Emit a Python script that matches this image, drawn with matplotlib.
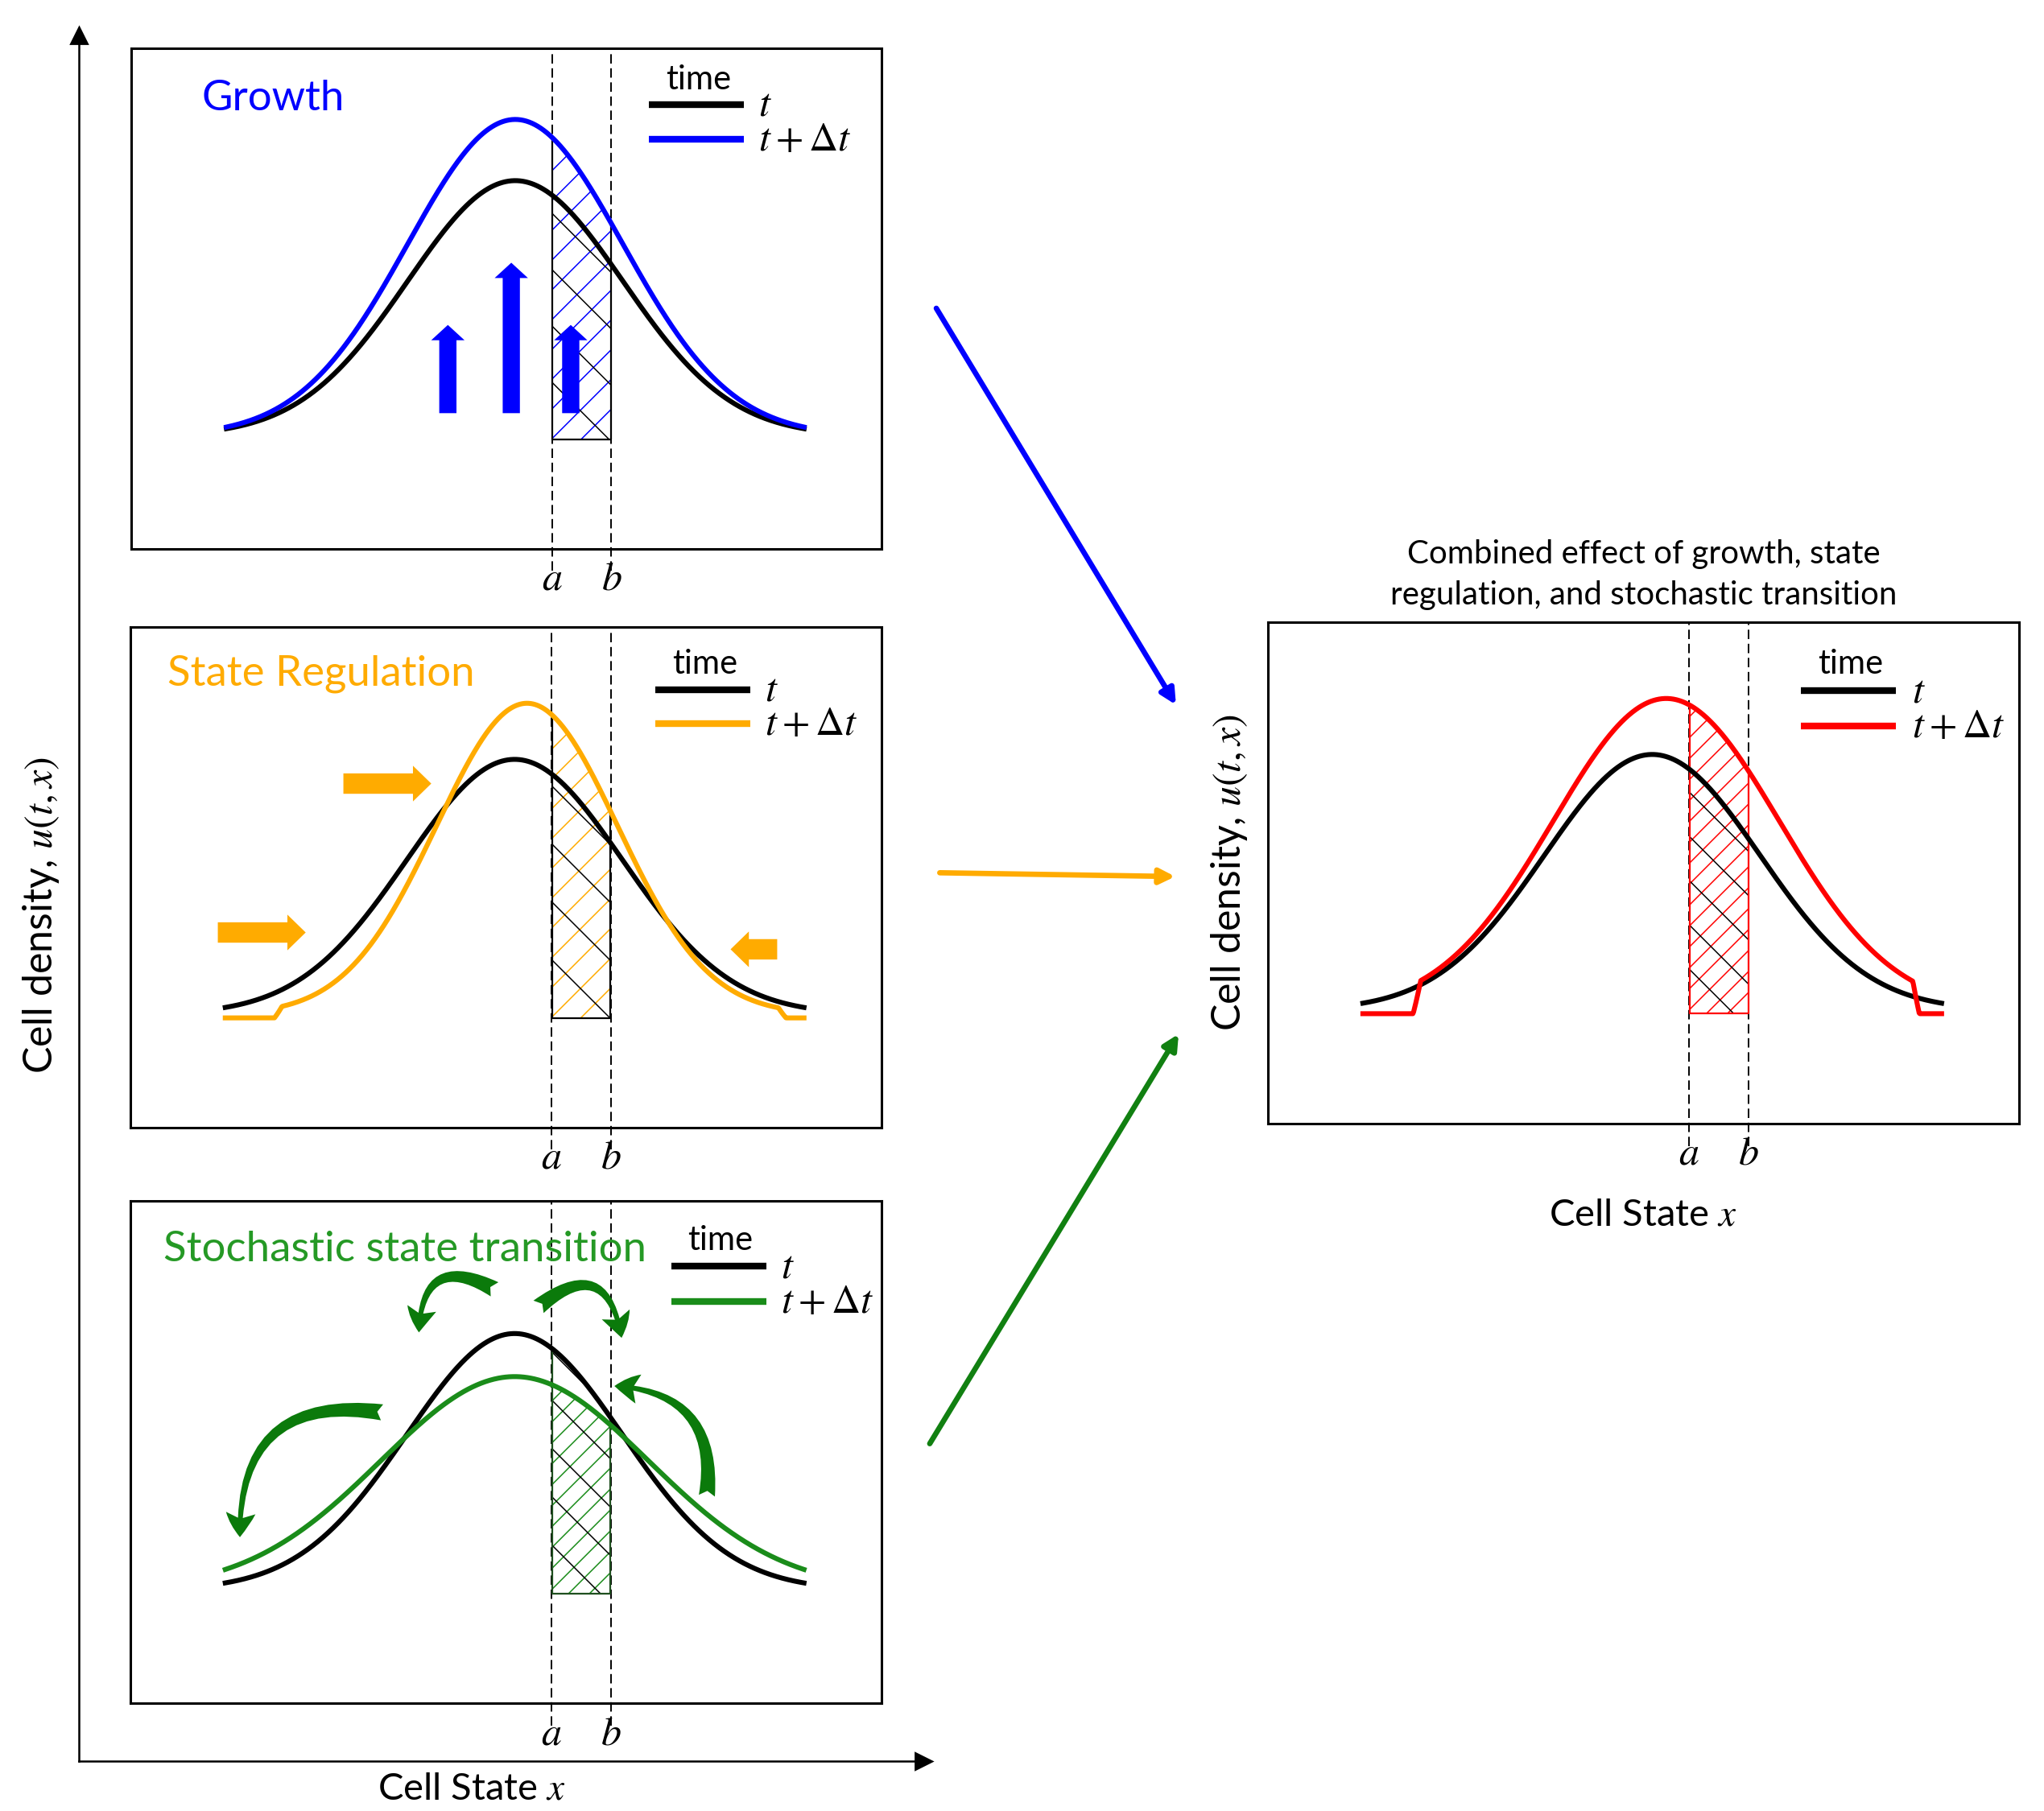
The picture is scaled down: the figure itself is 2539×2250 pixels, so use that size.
import numpy as np
import matplotlib.pyplot as plt
from matplotlib.patches import FancyArrow, FancyArrowPatch, Polygon

plt.rcParams['font.family'] = ['Lato', 'DejaVu Sans']
plt.rcParams['mathtext.fontset'] = 'stix'

# cell state axis, in units of the spread of the density at time t
x = np.linspace(-2.687, 2.687, 800)
a_state, b_state = 0.341, 0.894
floor = -0.014

# density at time t (peak, centre, spread)
base = [1.0, 0.0, 1.0]

# density at t + dt for each process (peak, centre, spread)
growth = [1.24, 0.0, 1.0]
regulation = [1.22, 0.115, 0.84]
stochastic = [0.832, 0.0, 1.24]
combined = [1.219, 0.13, 1.05]

# where the t + dt density drops to the floor (left ramp, right ramp)
regulation_cut = [-2.23, -2.16, 2.45, 2.52]
combined_cut = [-2.22, -2.15, 2.42, 2.48]

# growth arrows: state, top
growth_arrow_x = [-0.627, -0.037, 0.516]
growth_arrow_top = [0.434, 0.678, 0.434]
growth_arrow_bottom = 0.088

# state regulation arrows: start, end, height
reg_arrow_start = [-2.756, -1.59, 2.438]
reg_arrow_end = [-1.94, -0.774, 2.005]
reg_arrow_y = [0.321, 0.905, 0.255]

# stochastic transition jumps: tail, head, bend
jump_tail = [(-0.15, 1.164), (0.19, 1.093), (-1.19, 0.69), (1.78, 0.35)]
jump_head = [(-0.89, 0.987), (1.0, 0.966), (-2.55, 0.188), (0.885, 0.796)]
jump_bend = [0.85, -0.9, 0.6, 0.55]

blue = '#0000ff'
orange = '#ffab00'
green = '#1a8c1a'
red = '#ff0000'


def density(s, peak, centre, spread, cut=None):
    u = peak * np.exp(-0.5 * ((s - centre) / spread) ** 2)
    if cut is not None:
        l0, l1, r1, r0 = cut
        w = np.minimum(np.clip((s - l0) / (l1 - l0), 0, 1),
                       np.clip((r0 - s) / (r0 - r1), 0, 1))
        u = floor + w * (u - floor)
    return u


def hatch(ax, xs, top, color, step, sign, lw):
    verts = np.column_stack([np.r_[xs, xs[::-1]],
                             np.r_[top, np.full(len(xs), floor)]])
    clip = Polygon(verts, closed=True, transform=ax.transData)
    (x0, y0), (x1, y1) = ax.transData.transform([[xs[0], floor], [xs[-1], top.max()]])
    w = x1 - x0
    inv = ax.transData.inverted()
    if sign > 0:
        cs = np.arange(y0 - w, y1 + step, step)
        ends = [((x0, c), (x1, c + w)) for c in cs]
    else:
        cs = np.arange(y0, y1 + w + step, step)
        ends = [((x0, c), (x1, c - w)) for c in cs]
    for p, q in ends:
        (px, py), (qx, qy) = inv.transform([p, q])
        ln, = ax.plot([px, qx], [py, qy], color=color, lw=lw, zorder=2)
        ln.set_clip_path(clip)


fig = plt.figure(figsize=(2539 / 200, 2250 / 200), dpi=200)

W, H = 1556, 1380
def box(x0, y0, x1, y1):
    return [x0 / W, 1 - y1 / H, (x1 - x0) / W, (y1 - y0) / H]

# big axes with arrows
big = fig.add_axes(box(60, 27, 703, 1342))
big.set_xticks([])
big.set_yticks([])
for s in ['top', 'right']:
    big.spines[s].set_visible(False)
for s in ['left', 'bottom']:
    big.spines[s].set_linewidth(0.9)
big.plot(0, 1, marker='^', color='k', ms=7, transform=big.transAxes, clip_on=False)
big.plot(1, 0, marker='>', color='k', ms=7, transform=big.transAxes, clip_on=False)
big.set_xlabel('Cell State $x$', fontsize=17, x=0.465, labelpad=5)
big.set_ylabel('Cell density, $u(t,x)$', fontsize=18, y=0.49, labelpad=8)
big.patch.set_alpha(0)

panels = [
    dict(pos=box(100, 37, 671, 418), new=growth, cut=None, color=blue,
         title='Growth', tx=0.094, ty=0.90, leg=(0.690, 0.817, 0.888, 0.819, 0.756, 0.938, 0.836),
         outline='k', step=(37, 70)),
    dict(pos=box(99, 478, 671, 859), new=regulation, cut=regulation_cut, color=orange,
         title='State Regulation', tx=0.050, ty=0.907, leg=(0.699, 0.825, 0.875, 0.808, 0.765, 0.926, 0.845),
         outline='k', step=(37, 72)),
    dict(pos=box(99, 915, 671, 1298), new=stochastic, cut=None, color=green,
         title='Stochastic state transition', tx=0.044, ty=0.9025,
         leg=(0.720, 0.847, 0.870, 0.800, 0.786, 0.921, 0.866), outline='#1f4f1f', step=(26, 60)),
    dict(pos=box(965, 474, 1537, 856), new=combined, cut=combined_cut, color=red,
         title=None, tx=0, ty=0, leg=(0.710, 0.836, 0.863, 0.792, 0.776, 0.917, 0.857),
         outline=red, step=(26, 55)),
]

axes = []
for p in panels:
    ax = fig.add_axes(p['pos'])
    ax.set_xlim(-3.571, 3.406)
    ax.set_ylim(-0.443, 1.518)
    for s in ax.spines.values():
        s.set_linewidth(1.1)
    ax.set_yticks([])
    ax.set_xticks([a_state, b_state], ['$a$', '$b$'])
    ax.tick_params(axis='x', length=0, pad=5, labelsize=18)

    u0 = density(x, *base)
    u1 = density(x, *p['new'], cut=p['cut'])

    inside = (x >= a_state) & (x <= b_state)
    xs = x[inside]
    hatch(ax, xs, u1[inside], p['color'], p['step'][0], 1, 0.55)
    hatch(ax, xs, u0[inside], 'k', p['step'][1], -1, 0.55)
    top_a = max(u0[inside][0], u1[inside][0])
    top_b = max(u0[inside][-1], u1[inside][-1])
    ax.plot([xs[0], xs[0], xs[-1], xs[-1]], [top_a, floor, floor, top_b],
            color=p['outline'], lw=0.8, zorder=3)

    for xv in [a_state, b_state]:
        ax.axvline(xv, ymin=-0.045, ymax=1, color='k', lw=0.7, ls=(0, (6, 3)),
                   clip_on=False, zorder=1)

    ax.plot(x, u0, color='k', lw=2.2, zorder=4)
    ax.plot(x, u1, color=p['color'], lw=2.2, zorder=4)

    x0, x1, yt, yd, xt, ytime, xl = p['leg']
    ax.plot([x0, x1], [yt, yt], color='k', lw=3.0, transform=ax.transAxes, solid_capstyle='butt')
    ax.plot([x0, x1], [yd, yd], color=p['color'], lw=3.0, transform=ax.transAxes, solid_capstyle='butt')
    ax.text(xt, ytime, 'time', fontsize=15, ha='center', va='center', transform=ax.transAxes)
    ax.text(xl, yt, '$t$', fontsize=18, ha='left', va='center', transform=ax.transAxes)
    ax.text(xl, yd, r'$t + \Delta t$', fontsize=18, ha='left', va='center', transform=ax.transAxes)

    if p['title']:
        ax.text(p['tx'], p['ty'], p['title'], color=p['color'] if p['color'] != green else '#259925',
                fontsize=19, ha='left', va='center', transform=ax.transAxes)
    axes.append(ax)

ax1, ax2, ax3, ax4 = axes

for xv, top in zip(growth_arrow_x, growth_arrow_top):
    ax1.add_patch(FancyArrow(xv, growth_arrow_bottom, 0, top - growth_arrow_bottom,
                             width=0.16, head_width=0.31, head_length=0.06,
                             length_includes_head=True, color=blue, lw=0, zorder=5))

for xs0, xe, yv in zip(reg_arrow_start, reg_arrow_end, reg_arrow_y):
    ax2.add_patch(FancyArrow(xs0, yv, xe - xs0, 0, width=0.08, head_width=0.14,
                             head_length=0.17, length_includes_head=True,
                             color=orange, lw=0, zorder=5))

for tail, head, bend in zip(jump_tail, jump_head, jump_bend):
    ax3.add_patch(FancyArrowPatch(tail, head, connectionstyle=f'arc3,rad={bend}',
                                  arrowstyle='fancy,head_length=0.45,head_width=0.55,tail_width=0.3',
                                  mutation_scale=24, color='#0b7a0b', lw=0, zorder=5))

ax4.set_title('Combined effect of growth, state\nregulation, and stochastic transition',
              fontsize=14.5, pad=8, linespacing=1.45)
ax4.set_xlabel('Cell State $x$', fontsize=17, labelpad=12)
ax4.set_ylabel('Cell density, $u(t,x)$', fontsize=18, labelpad=8)

# arrows joining the three processes to the combined panel
links = [((711, 232), (897, 540), blue), ((712, 665), (898, 668), orange),
         ((706, 1103), (899, 785), '#118011')]
for (sx, sy), (ex, ey), c in links:
    fig.add_artist(FancyArrowPatch((sx / W, 1 - sy / H), (ex / W, 1 - ey / H),
                                   transform=fig.transFigure, arrowstyle='-|>',
                                   mutation_scale=14, color=c, lw=2.4))

fig.savefig('out.png', dpi=200)
